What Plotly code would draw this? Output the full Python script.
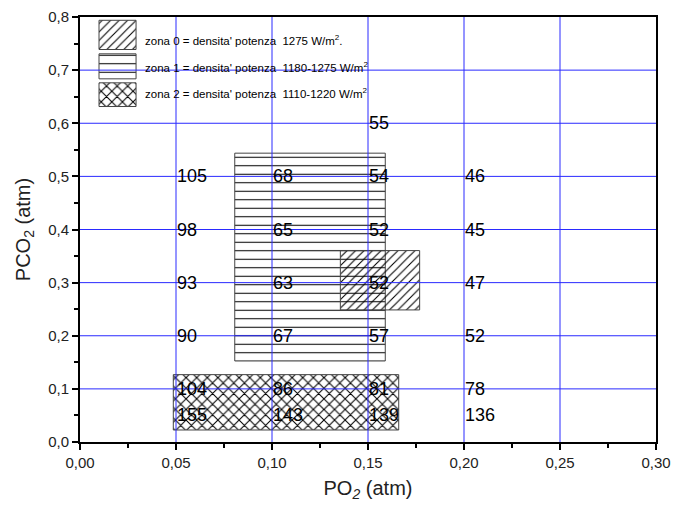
import plotly.graph_objects as go

# ---- data ----
x_cols = [0.05, 0.10, 0.15, 0.20]
y_rows = [0.6, 0.5, 0.4, 0.3, 0.2, 0.1, 0.05]
# values per column (None = no label)
vals_005 = [None, 105, 98, 93, 90, 104, 155]
vals_010 = [None, 68, 65, 63, 67, 86, 143]
vals_015 = [55, 54, 52, 52, 57, 81, 139]
vals_020 = [None, 46, 45, 47, 52, 78, 136]
col_values = [vals_005, vals_010, vals_015, vals_020]

# zones: (x0, x1, y0, y1)
zone_names = ["zona 0", "zona 1", "zona 2"]
zone_x0 = [0.1356, 0.0806, 0.0486]
zone_x1 = [0.1769, 0.1590, 0.1660]
zone_y0 = [0.2486, 0.1525, 0.0226]
zone_y1 = [0.3603, 0.5437, 0.1268]
zone_shape = ["/", "-", "x"]
zone_size = [6, 8.5, 7.5]
zone_solid = [0.18, 0.12, 0.26]
zone_bg = ["rgba(0,0,0,0)", "white", "white"]
zone_text = [
    "zona 0 = densita' potenza  1275 W/m<sup>2</sup>.",
    "zona 1 = densita' potenza  1180-1275 W/m<sup>2</sup>",
    "zona 2 = densita' potenza  1110-1220 W/m<sup>2</sup>",
]
# legend sample boxes (data coords)
leg_x0 = [0.0099, 0.0099, 0.0099]
leg_x1 = [0.0292, 0.0292, 0.0292]
leg_y0 = [0.7388, 0.6836, 0.6315]
leg_y1 = [0.7938, 0.7307, 0.6761]
leg_ty = [0.757, 0.7068, 0.6567]
leg_tx = 0.0328

x_ticks = [0.00, 0.05, 0.10, 0.15, 0.20, 0.25, 0.30]
y_ticks = [0.0, 0.1, 0.2, 0.3, 0.4, 0.5, 0.6, 0.7, 0.8]

FONT = "Liberation Sans, Arial, sans-serif"
GRID = "#2a2aff"

fig = go.Figure()

def rect(x0, x1, y0, y1, shape, size, solid, bg):
    return go.Scatter(
        x=[x0, x1, x1, x0, x0], y=[y0, y0, y1, y1, y0],
        mode="lines", fill="toself",
        fillcolor=bg,
        fillpattern=dict(shape=shape, size=size, solidity=solid,
                         fgcolor="black", bgcolor=bg, fillmode="replace"),
        line=dict(color="#444444", width=1),
        showlegend=False, hoverinfo="skip",
    )

# draw zone 2, zone 1, then zone 0 on top
for i in [2, 1, 0]:
    fig.add_trace(rect(zone_x0[i], zone_x1[i], zone_y0[i], zone_y1[i],
                       zone_shape[i], zone_size[i], zone_solid[i], zone_bg[i]))

# legend samples
for i in range(3):
    fig.add_trace(rect(leg_x0[i], leg_x1[i], leg_y0[i], leg_y1[i],
                       zone_shape[i], zone_size[i], zone_solid[i], "white"))

# gridlines above traces
for xv in x_ticks[1:-1]:
    fig.add_shape(type="line", x0=xv, x1=xv, y0=0, y1=0.8, xref="x", yref="y",
                  line=dict(color=GRID, width=1), layer="above")
for yv in y_ticks[1:-1]:
    fig.add_shape(type="line", x0=0, x1=0.3, y0=yv, y1=yv, xref="x", yref="y",
                  line=dict(color=GRID, width=1), layer="above")

# value labels
for xc, vals in zip(x_cols, col_values):
    for yv, v in zip(y_rows, vals):
        if v is None:
            continue
        fig.add_annotation(x=xc, y=yv, text=str(v), showarrow=False,
                           xanchor="left", yanchor="middle", xshift=-1,
                           font=dict(family=FONT, size=18, color="black"))

# legend text
for i in range(3):
    fig.add_annotation(x=leg_tx, y=leg_ty[i], text=zone_text[i], showarrow=False,
                       xanchor="left", yanchor="middle",
                       font=dict(family=FONT, size=11.5, color="black"))

axis_common = dict(
    showgrid=False, zeroline=False, showline=True, linecolor="black",
    linewidth=2, mirror=True, ticks="outside", ticklen=6, tickwidth=1.5,
    tickcolor="black", tickfont=dict(family=FONT, size=15, color="#222"),
    automargin=False,
)
fig.update_xaxes(
    range=[0, 0.30], tickvals=x_ticks, tickformat=".2f",
    minor=dict(ticks="outside", ticklen=4, tickwidth=1.5, tickcolor="black",
               dtick=0.025, showgrid=False),
    title=dict(text="PO<sub><i>2</i></sub> (atm)", standoff=11,
               font=dict(family=FONT, size=20, color="#222")),
    **axis_common)
fig.update_yaxes(
    range=[0, 0.8], tickvals=y_ticks, tickformat=".1f",
    minor=dict(ticks="outside", ticklen=4, tickwidth=1.5, tickcolor="black",
               dtick=0.05, showgrid=False),
    title=dict(text="PCO<sub>2</sub> (atm)", standoff=12,
               font=dict(family=FONT, size=20, color="#222")),
    **axis_common)

fig.update_layout(
    width=673, height=511,
    margin=dict(l=80, r=17, t=17, b=69),
    plot_bgcolor="white", paper_bgcolor="white",
    separators=", ",
    showlegend=False,
)

fig.write_html(
    "out.html",
    config={"displayModeBar": False},
    post_script="document.body.style.margin='0';document.body.style.overflow='hidden';",
)
